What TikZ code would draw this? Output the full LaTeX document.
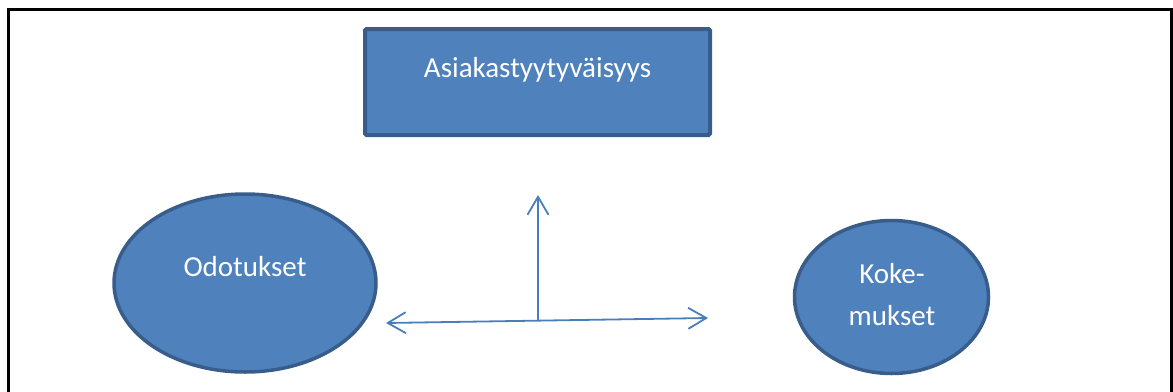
\documentclass[tikz,border=0pt]{standalone}
\usepackage{fontspec}
\setmainfont{Carlito}
\usetikzlibrary{shapes.geometric,arrows.meta}
\definecolor{shapefill}{HTML}{4F81BD}
\definecolor{shapeedge}{HTML}{385D8A}
\definecolor{arrowcol}{HTML}{4A7EBB}
\begin{document}
\begin{tikzpicture}[x=1pt,y=-1pt,
  >={Straight Barb[length=18pt,width=21pt,line width=1.8pt]},
  shapebox/.style={draw=shapeedge,fill=shapefill,line width=4pt,rounded corners=1.5pt,inner sep=0pt,minimum width=345pt,minimum height=106pt},
  shapeell/.style={ellipse,draw=shapeedge,fill=shapefill,line width=3.5pt,inner sep=0pt},
  lbl/.style={text=white,font=\fontsize{29}{42}\selectfont,anchor=base,inner sep=0pt},
  conn/.style={draw=arrowcol,line width=1.8pt}]
\useasboundingbox (0,0) rectangle (1173,391);
% frame
\draw[line width=3pt] (8,395) -- (8,9) -- (1171,9) -- (1171,395);
% shapes
\node[shapebox] (sat) at (537.5,82) {};
\node[lbl] (satt) at (537.5,77) {Asiakastyytyväisyys};
\node[shapeell,minimum width=262pt,minimum height=178pt] (odo) at (245,283) {};
\node[lbl] (odot) at (245,276) {Odotukset};
\node[shapeell,minimum width=194pt,minimum height=153pt] (kok) at (891.5,297) {};
\node[lbl] (kokt1) at (892,283) {Koke-};
\node[lbl] (kokt2) at (892,325) {mukset};
% connectors
\coordinate (hub) at (538,320.5);
\coordinate (up) at (538,195);
\coordinate (le) at (386,323);
\coordinate (ri) at (708,318);
\draw[conn,->] (hub) -- (up);
\draw[conn,<->] (le) -- (ri);
\end{tikzpicture}
\end{document}
